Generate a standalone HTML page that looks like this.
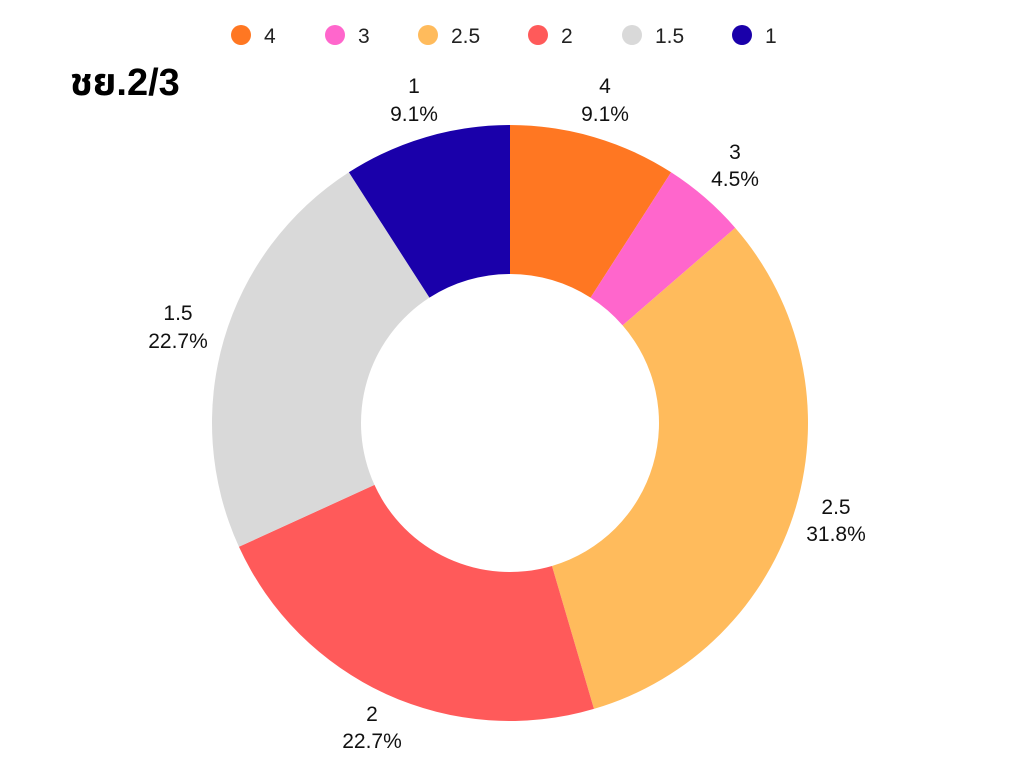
<!DOCTYPE html>
<html><head><meta charset="utf-8"><style>
html,body{margin:0;padding:0;background:#fff;}
svg{display:block;font-family:"Liberation Sans",sans-serif;}
</style></head><body>
<svg id="s" width="1024" height="768" viewBox="0 0 1024 768">
<rect width="1024" height="768" fill="#fff"/>
<g id="pie"></g>
<text x="70" y="95" font-size="38" font-weight="bold" fill="#000" font-family="'Liberation Sans','Noto Sans Thai','Loma',sans-serif">ชย.2/3</text>
<g font-size="21" fill="#222">
<circle cx="241" cy="35" r="10" fill="#FF7722"/><text x="264" y="43">4</text>
<circle cx="335" cy="35" r="10" fill="#FF66CC"/><text x="358" y="43">3</text>
<circle cx="428" cy="35" r="10" fill="#FFBB5C"/><text x="451" y="43">2.5</text>
<circle cx="538" cy="35" r="10" fill="#FF5A5A"/><text x="561" y="43">2</text>
<circle cx="632" cy="35" r="10" fill="#D9D9D9"/><text x="655" y="43">1.5</text>
<circle cx="742" cy="35" r="10" fill="#1A00AA"/><text x="765" y="43">1</text>
</g>
<g font-size="21" fill="#111" text-anchor="middle">
<text x="605" y="93">4</text><text x="605" y="121">9.1%</text>
<text x="735" y="159">3</text><text x="735" y="186">4.5%</text>
<text x="836" y="514">2.5</text><text x="836" y="541">31.8%</text>
<text x="372" y="721">2</text><text x="372" y="748">22.7%</text>
<text x="178" y="320">1.5</text><text x="178" y="348">22.7%</text>
<text x="414" y="93">1</text><text x="414" y="121">9.1%</text>
</g>
</svg>
<script>
var cx=510,cy=423,R=298,r=149;
var d=[[2,"#FF7722"],[1,"#FF66CC"],[7,"#FFBB5C"],[5,"#FF5A5A"],[5,"#D9D9D9"],[2,"#1A00AA"]];
var a=0,g=document.getElementById("pie"),h="";
function p(rad,ang){return [cx+rad*Math.sin(ang),cy-rad*Math.cos(ang)];}
d.forEach(function(e){
 var a0=a/22*2*Math.PI;a+=e[0];var a1=a/22*2*Math.PI;
 var lg=(a1-a0)>Math.PI?1:0;
 var o0=p(R,a0),o1=p(R,a1),i1=p(r,a1),i0=p(r,a0);
 h+='<path fill="'+e[1]+'" d="M'+o0+' A'+R+','+R+' 0 '+lg+' 1 '+o1+' L'+i1+' A'+r+','+r+' 0 '+lg+' 0 '+i0+' Z"/>';
});
g.innerHTML=h;
</script>
</body></html>
